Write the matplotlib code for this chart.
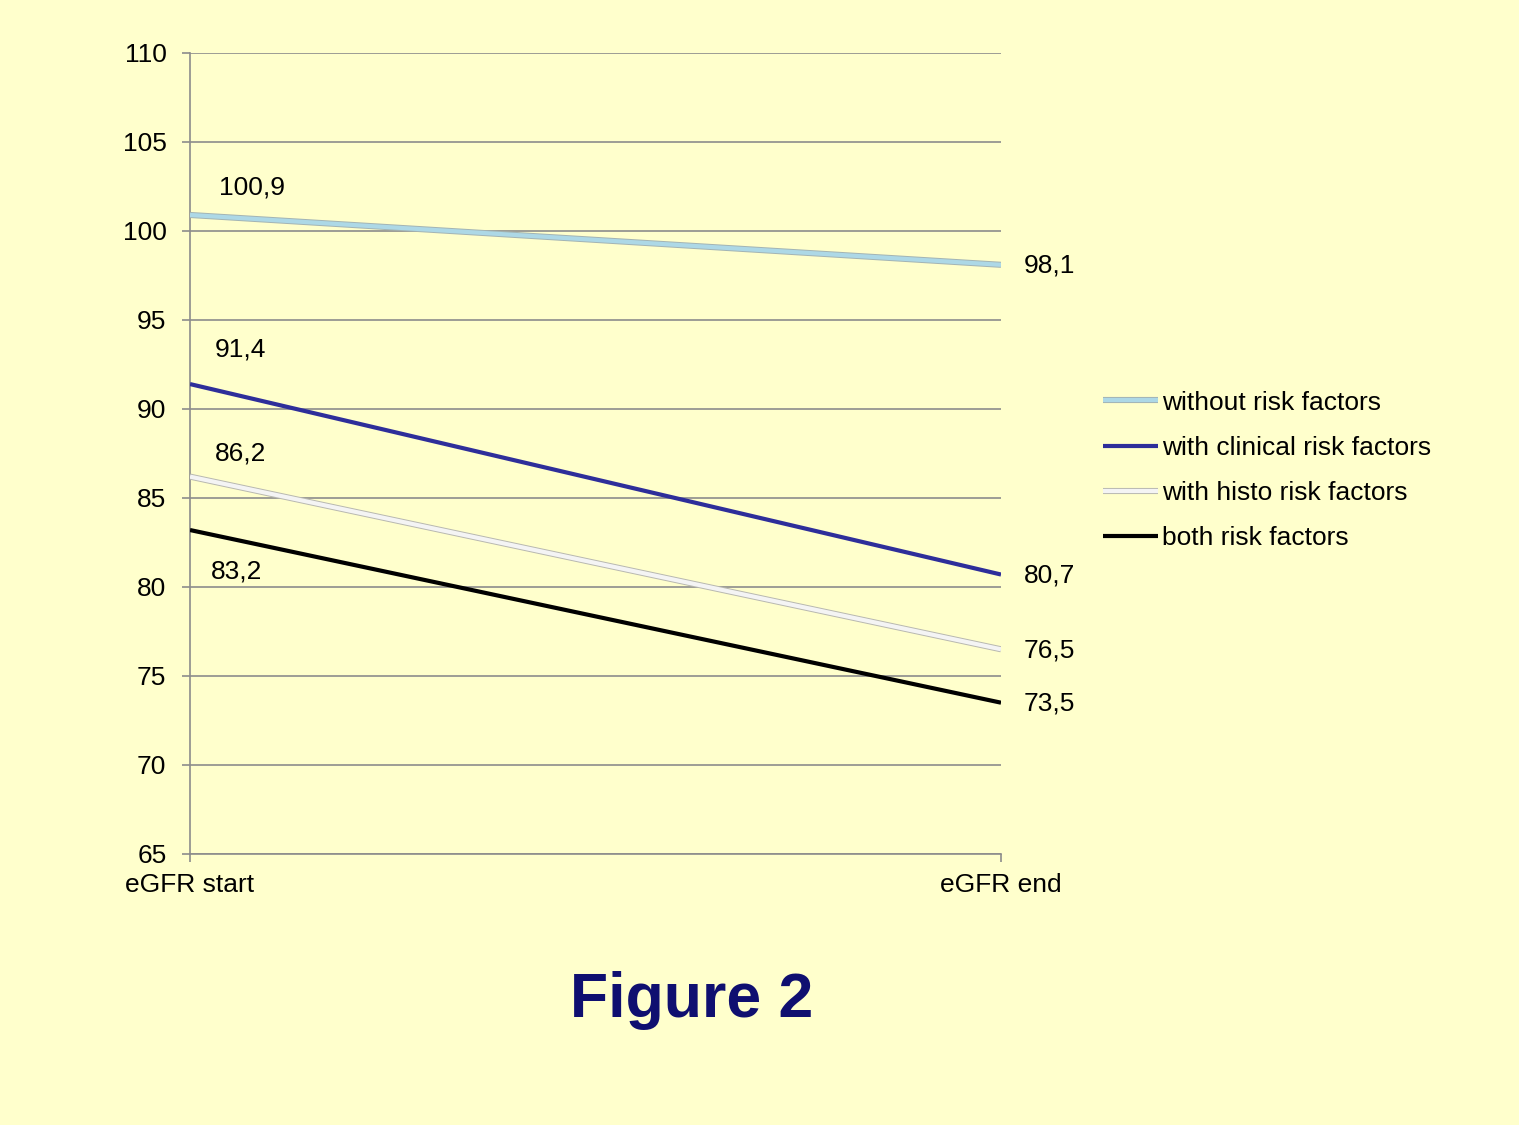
import matplotlib
matplotlib.use("Agg")
import matplotlib.pyplot as plt
import matplotlib.patheffects as pe

plt.rcParams['font.family'] = ['Liberation Sans', 'DejaVu Sans']

categories = ["eGFR start", "eGFR end"]
series_names = ["without risk factors", "with clinical risk factors",
                "with histo risk factors", "both risk factors"]
without_rf = [100.9, 98.1]
clinical_rf = [91.4, 80.7]
histo_rf = [86.2, 76.5]
both_rf = [83.2, 73.5]
yticks = [65, 70, 75, 80, 85, 90, 95, 100, 105, 110]

bg = "#FFFFCC"
fig = plt.figure(figsize=(15.19, 11.25), dpi=100, facecolor=bg)
ax = fig.add_axes([0.1251, 0.2409, 0.5339, 0.712])
ax.set_facecolor(bg)

x = [0, 1]
styles = [
    (without_rf, "#ADD8E6", [pe.Stroke(linewidth=4.4, foreground="#a3b4b4"), pe.Normal()]),
    (clinical_rf, "#2E2E9A", None),
    (histo_rf, "#F4F4F4", [pe.Stroke(linewidth=4.4, foreground="#b8b8b0"), pe.Normal()]),
    (both_rf, "#000000", None),
]
for (vals, color, effects), name in zip(styles, series_names):
    line, = ax.plot(x, vals, color=color, lw=3.0, label=name, solid_capstyle="butt", zorder=3)
    if effects:
        line.set_path_effects(effects)

fs = 19
# start-value labels
start_offsets = [(0.077, 1.55), (0.062, 1.95), (0.062, 1.3), (0.057, -2.35)]
for (vals, *_), (dx, dy) in zip(styles, start_offsets):
    ax.text(0 + dx, vals[0] + dy, f"{vals[0]:.1f}".replace(".", ","),
            fontsize=fs, ha="center", va="center")
# end-value labels
for vals, *_ in styles:
    ax.text(1.028, vals[1] - 0.05, f"{vals[1]:.1f}".replace(".", ","),
            fontsize=fs, ha="left", va="center", clip_on=False)

ax.set_xlim(0, 1)
ax.set_ylim(65, 110)
ax.set_yticks(yticks)
ax.set_yticklabels([str(t) for t in yticks], fontsize=fs)
ax.set_xticks(x)
ax.set_xticklabels(categories, fontsize=fs)
ax.yaxis.grid(True, color="#8c8c8c", lw=1.2)
ax.set_axisbelow(True)
for s in ["top", "right"]:
    ax.spines[s].set_visible(False)
for s in ["left", "bottom"]:
    ax.spines[s].set_color("#8c8c8c")
    ax.spines[s].set_linewidth(1.2)
ax.tick_params(axis="both", color="#8c8c8c", length=6, width=1.2, direction="out")
ax.tick_params(axis="y", pad=11)
ax.tick_params(axis="x", pad=8)

leg = ax.legend(loc="center left", bbox_to_anchor=(1.096, 0.479), frameon=False,
                fontsize=fs, handlelength=2.1, handletextpad=0.15, labelspacing=0.8)

fig.text(0.455, 0.111, "Figure 2", fontsize=45, fontweight="bold",
         color="#0F0F70", ha="center", va="center")

fig.savefig("out.png", dpi=100, facecolor=bg)
